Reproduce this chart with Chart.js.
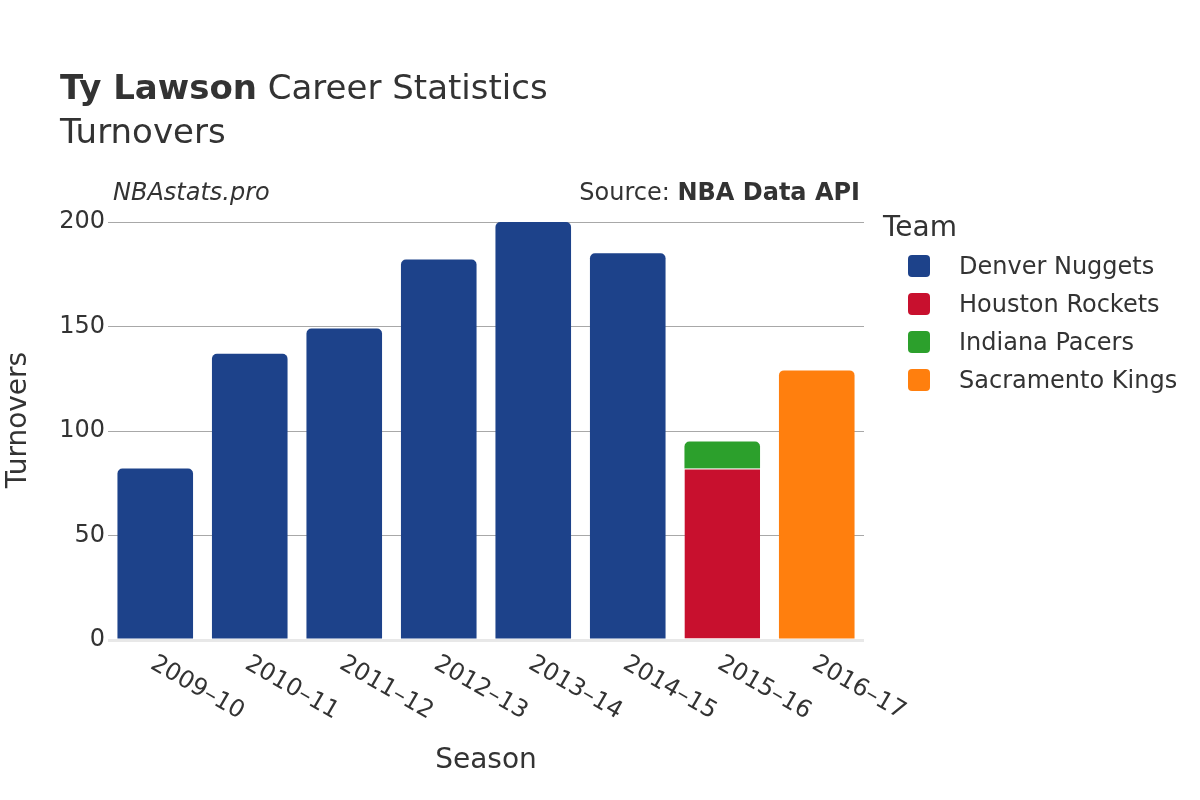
<!DOCTYPE html>
<html>
<head>
<meta charset="utf-8">
<script src="https://cdn.jsdelivr.net/npm/chart.js@4"></script>
<style>
  body { margin: 0; background: #fff; }
  canvas { display: block; }
</style>
</head>
<body>
<canvas id="turnoverChart" width="1200" height="800"></canvas>
<script>
// season labels and turnovers per team
const seasons = ['2009–10', '2010–11', '2011–12', '2012–13', '2013–14', '2014–15', '2015–16', '2016–17'];
const denverNuggets = [82, 137, 149, 182, 200, 185, null, null];
const houstonRockets = [null, null, null, null, null, null, 82, null];
const indianaPacers = [null, null, null, null, null, null, 13, null];
const sacramentoKings = [null, null, null, null, null, null, null, 129];
const yTickValues = [0, 50, 100, 150, 200];

const textColor = '#333';
const fontFamily = 'DejaVu Sans';

Chart.defaults.font.family = fontFamily;
Chart.defaults.color = textColor;

// titles, watermark, source line and y axis title
const headerPlugin = {
  id: 'header',
  afterDraw(chart) {
    const ctx = chart.ctx;
    ctx.save();
    ctx.fillStyle = textColor;
    ctx.textBaseline = 'middle';
    ctx.textAlign = 'left';

    ctx.font = 'bold 34px ' + fontFamily;
    ctx.fillText('Ty Lawson', 60, 90);
    let w = ctx.measureText('Ty Lawson').width;
    ctx.font = '34px ' + fontFamily;
    ctx.fillText(' Career Statistics', 60 + w, 90);
    ctx.fillText('Turnovers', 60, 134);

    ctx.font = 'italic 24px ' + fontFamily;
    ctx.fillText('NBAstats.pro', 113, 194);

    ctx.textAlign = 'right';
    ctx.font = 'bold 24px ' + fontFamily;
    ctx.fillText('NBA Data API', 860, 194);
    w = ctx.measureText('NBA Data API').width;
    ctx.font = '24px ' + fontFamily;
    ctx.fillText('Source: ', 860 - w, 194);

    // y axis title
    ctx.save();
    ctx.translate(19, 420);
    ctx.rotate(-Math.PI / 2);
    ctx.textAlign = 'center';
    ctx.font = '28px ' + fontFamily;
    ctx.fillText('Turnovers', 0, 0);
    ctx.restore();
    ctx.restore();
  }
};

// rotated season labels going down to the right
const seasonLabelsPlugin = {
  id: 'seasonLabels',
  afterDraw(chart) {
    const ctx = chart.ctx;
    const xScale = chart.scales.x;
    ctx.save();
    ctx.fillStyle = textColor;
    ctx.font = '24px ' + fontFamily;
    ctx.textAlign = 'left';
    ctx.textBaseline = 'middle';
    seasons.forEach((s, i) => {
      const x = xScale.getPixelForTick(i);
      ctx.save();
      ctx.translate(x - 3, chart.chartArea.bottom + 22);
      ctx.rotate(Math.PI / 6);
      ctx.fillText(s, 0, 0);
      ctx.restore();
    });
    ctx.restore();
  }
};

// legend on the right with a title
const teamLegendPlugin = {
  id: 'teamLegend',
  afterDraw(chart) {
    const ctx = chart.ctx;
    ctx.save();
    ctx.fillStyle = textColor;
    ctx.textBaseline = 'middle';
    ctx.textAlign = 'left';
    ctx.font = '28px ' + fontFamily;
    ctx.fillText('Team', 883, 229);
    ctx.font = '24px ' + fontFamily;
    chart.data.datasets.forEach((ds, i) => {
      const y = 266 + i * 38;
      ctx.fillStyle = ds.backgroundColor;
      ctx.beginPath();
      ctx.roundRect(908, y - 11, 22, 22, 4);
      ctx.fill();
      ctx.fillStyle = textColor;
      ctx.fillText(ds.label, 959, y + 2);
    });
    ctx.restore();
  }
};

new Chart(document.getElementById('turnoverChart'), {
  type: 'bar',
  data: {
    labels: seasons,
    datasets: [
      { label: 'Denver Nuggets', data: denverNuggets, backgroundColor: '#1d428a',
        borderRadius: { topLeft: 5, topRight: 5 } },
      { label: 'Houston Rockets', data: houstonRockets, backgroundColor: '#c8102e',
        borderRadius: 0, borderColor: '#ffffff', borderWidth: { top: 1 } },
      { label: 'Indiana Pacers', data: indianaPacers, backgroundColor: '#2ca02c',
        borderRadius: { topLeft: 5, topRight: 5 } },
      { label: 'Sacramento Kings', data: sacramentoKings, backgroundColor: '#ff7f0e',
        borderRadius: { topLeft: 5, topRight: 5 } }
    ]
  },
  options: {
    responsive: false,
    animation: false,
    layout: { padding: { top: 222, right: 336, left: 0, bottom: 0 } },
    datasets: {
      bar: { barPercentage: 0.8, categoryPercentage: 1, borderSkipped: 'start' }
    },
    plugins: {
      legend: { display: false },
      title: { display: false },
      tooltip: { enabled: false }
    },
    scales: {
      x: {
        stacked: true,
        grid: { display: false },
        border: { display: false },
        ticks: { display: false },
        afterFit(scale) { scale.height = 160; },
        title: {
          display: true, text: 'Season', color: textColor,
          font: { size: 28 }, padding: { top: 4, bottom: 22 }
        }
      },
      y: {
        stacked: true,
        min: 0,
        max: 200,
        afterFit(scale) { scale.width = 108; },
        afterBuildTicks(scale) { scale.ticks = yTickValues.map(v => ({ value: v })); },
        border: { display: false },
        grid: {
          drawTicks: false,
          color: ctx => ctx.tick && ctx.tick.value === 0 ? '#e8e8e8' : '#a8a8a8',
          lineWidth: ctx => ctx.tick && ctx.tick.value === 0 ? 3 : 1
        },
        ticks: { padding: 3, color: textColor, font: { size: 24 } },
        title: { display: false }
      }
    }
  },
  plugins: [headerPlugin, seasonLabelsPlugin, teamLegendPlugin]
});
</script>
</body>
</html>
